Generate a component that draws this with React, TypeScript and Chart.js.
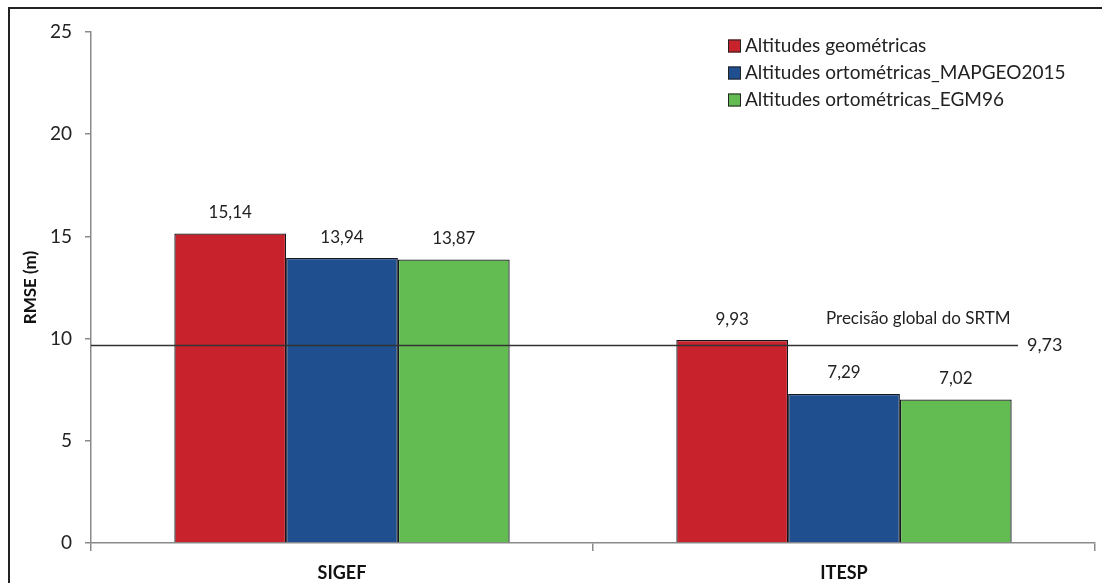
import React, { useEffect, useRef } from "react";
import { Chart, registerables } from "chart.js";

Chart.register(...registerables);

const categories = ["SIGEF", "ITESP"];
const seriesLabels = [
  "Altitudes geométricas",
  "Altitudes ortométricas_MAPGEO2015",
  "Altitudes ortométricas_EGM96",
];
const geometricas = [15.14, 9.93];
const mapgeo2015 = [13.94, 7.29];
const egm96 = [13.87, 7.02];
const seriesColors = ["#C8232C", "#1F4F8F", "#63BC52"];
const yTicks = [0, 5, 10, 15, 20, 25];
const srtmValue = 9.73;
const srtmLabel = "Precisão global do SRTM";

const FONT = "Lato, 'Noto Sans', sans-serif";

const fmt = (v: number) => v.toFixed(2).replace(".", ",");

const overlayPlugin = {
  id: "overlay",
  afterDatasetsDraw(chart: any) {
    const ctx = chart.ctx;
    const area = chart.chartArea;
    const y = chart.scales.y;
    ctx.save();
    // value labels
    ctx.font = `17px ${FONT}`;
    ctx.fillStyle = "#222";
    ctx.textAlign = "center";
    ctx.textBaseline = "middle";
    chart.data.datasets.forEach((ds: any, i: number) => {
      const meta = chart.getDatasetMeta(i);
      meta.data.forEach((bar: any, j: number) => {
        ctx.fillText(fmt(ds.data[j]), bar.x, bar.y - 21);
      });
    });
    // SRTM line
    const ly = Math.round(y.getPixelForValue(srtmValue)) + 1.5;
    const lineEnd = area.right - 77;
    ctx.strokeStyle = "#333";
    ctx.lineWidth = 1.5;
    ctx.beginPath();
    ctx.moveTo(area.left, ly);
    ctx.lineTo(lineEnd, ly);
    ctx.stroke();
    ctx.font = `18px ${FONT}`;
    ctx.textAlign = "left";
    ctx.fillStyle = "#222";
    ctx.fillText(fmt(srtmValue), lineEnd + 9, ly);
    ctx.font = `17px ${FONT}`;
    ctx.fillText(srtmLabel, lineEnd - 192, ly - 27);
    // legend
    ctx.font = `19px ${FONT}`;
    chart.data.datasets.forEach((ds: any, i: number) => {
      const cy = 46 + i * 27;
      ctx.fillStyle = ds.backgroundColor;
      ctx.fillRect(728, cy - 6.5, 13, 13);
      ctx.strokeStyle = "#222";
      ctx.lineWidth = 1;
      ctx.strokeRect(728.5, cy - 6, 12, 12);
      ctx.fillStyle = "#222";
      ctx.fillText(ds.label, 745, cy);
    });
    // outer border
    ctx.strokeStyle = "#222";
    ctx.lineWidth = 2;
    ctx.strokeRect(9, 8, 1200, 700);
    ctx.restore();
  },
};

export default function App() {
  const ref = useRef<HTMLCanvasElement>(null);
  useEffect(() => {
    if (!ref.current) return;
    const datasets = [geometricas, mapgeo2015, egm96].map((d, i) => ({
      label: seriesLabels[i],
      data: d,
      backgroundColor: seriesColors[i],
      borderColor: "#15151f",
      borderWidth: 1.3,
      barPercentage: 1,
      categoryPercentage: 0.668,
    }));
    const chart = new Chart(ref.current, {
      type: "bar",
      data: { labels: categories, datasets },
      plugins: [overlayPlugin],
      options: {
        animation: false,
        responsive: false,
        devicePixelRatio: 1,
        layout: { padding: { top: 32, right: 7, left: 0, bottom: 0 } },
        plugins: { legend: { display: false }, tooltip: { enabled: false } },
        scales: {
          x: {
            afterFit: (s: any) => {
              s.height = 40;
            },
            border: { color: "#8a8a8a", width: 1.5 },
            grid: {
              offset: true,
              drawOnChartArea: false,
              drawTicks: true,
              tickLength: 8,
              color: "#8a8a8a",
              lineWidth: 1.5,
            },
            ticks: {
              padding: 11,
              color: "#111",
              font: { family: FONT, size: 18, weight: "bold" },
            },
          },
          y: {
            min: 0,
            max: 25,
            afterFit: (s: any) => {
              s.width = 91;
            },
            afterBuildTicks: (s: any) => {
              s.ticks = yTicks.map((v) => ({ value: v }));
            },
            border: { color: "#8a8a8a", width: 1.5 },
            grid: {
              drawOnChartArea: false,
              drawTicks: true,
              tickLength: 6,
              color: "#8a8a8a",
              lineWidth: 1.5,
            },
            ticks: {
              padding: 13,
              color: "#222",
              font: { family: FONT, size: 19 },
            },
            title: {
              display: true,
              text: "RMSE (m)",
              color: "#111",
              padding: { top: 20, bottom: 0 },
              font: { family: FONT, size: 17, weight: "bold" },
            },
          },
        },
      },
    } as any);
    return () => chart.destroy();
  }, []);
  return (
    <div style={{ position: "fixed", left: 0, top: 0, width: 1102, height: 583, background: "#fff" }}>
      <canvas ref={ref} width={1102} height={583} style={{ display: "block", width: 1102, height: 583 }} />
    </div>
  );
}
